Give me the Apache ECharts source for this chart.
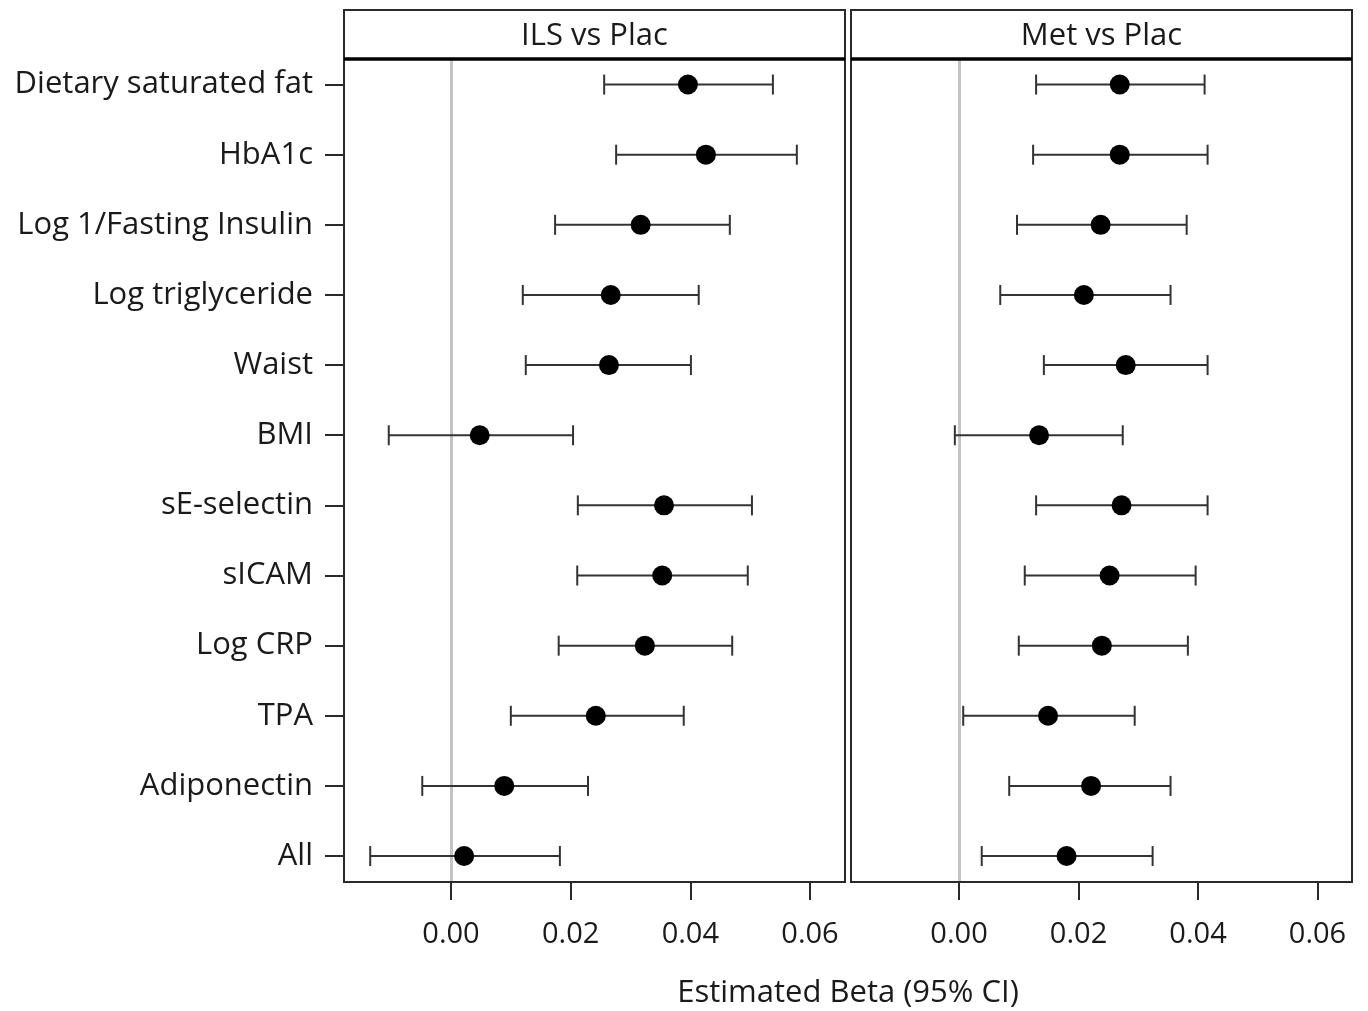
<!DOCTYPE html>
<html>
<head>
<meta charset="utf-8">
<script src="https://cdn.jsdelivr.net/npm/echarts@6/dist/echarts.min.js"></script>
<style>
  html, body { margin: 0; padding: 0; background: #fff; }
  #chart { width: 1368px; height: 1011px; }
</style>
</head>
<body>
<div id="chart"></div>
<script>
// Outcome measures, listed top to bottom
const outcomes = [
  'Dietary saturated fat', 'HbA1c', 'Log 1/Fasting Insulin', 'Log triglyceride',
  'Waist', 'BMI', 'sE-selectin', 'sICAM', 'Log CRP', 'TPA', 'Adiponectin', 'All'
];

// Panel titles
const panelTitles = ['ILS vs Plac', 'Met vs Plac'];

// ILS vs placebo: estimate, lower and upper 95% CI
const ilsBeta  = [0.0396, 0.0426, 0.0317, 0.0267, 0.0264, 0.0048, 0.0356, 0.0353, 0.0324, 0.0242, 0.0089, 0.0022];
const ilsLower = [0.0256, 0.0276, 0.0174, 0.0120, 0.0125, -0.0104, 0.0212, 0.0211, 0.0180, 0.0100, -0.0048, -0.0135];
const ilsUpper = [0.0538, 0.0578, 0.0466, 0.0414, 0.0401, 0.0204, 0.0503, 0.0496, 0.0470, 0.0389, 0.0229, 0.0182];

// Metformin vs placebo: estimate, lower and upper 95% CI
const metBeta  = [0.0269, 0.0269, 0.0237, 0.0209, 0.0279, 0.0134, 0.0272, 0.0252, 0.0239, 0.0149, 0.0221, 0.0180];
const metLower = [0.0129, 0.0124, 0.0097, 0.0069, 0.0142, -0.0007, 0.0129, 0.0110, 0.0100, 0.0007, 0.0084, 0.0038];
const metUpper = [0.0411, 0.0416, 0.0381, 0.0354, 0.0416, 0.0274, 0.0416, 0.0396, 0.0383, 0.0294, 0.0354, 0.0324];

// Tick values on the beta axis
const betaTicks = [0, 0.02, 0.04, 0.06];
const axisTitle = 'Estimated Beta (95% CI)';

const FONT = '"Open Sans"';
const FS = 31;       // category labels, strip titles, axis title
const FS_TICK = 29;  // numeric tick labels
const INK = '#1a1a1a';
const FRAME = '#2a2a2a';

const chart = echarts.init(document.getElementById('chart'), null, { renderer: 'canvas' });

const rowIdx = outcomes.map((_, i) => i);

const grids = [
  { left: 344, right: 523, top: 60, bottom: 129 },
  { left: 851, right: 16, top: 60, bottom: 129 }
];

function xAxisFor(gi, min, max) {
  return {
    type: 'value', gridIndex: gi, min: min, max: max, position: 'bottom',
    splitLine: { show: false },
    axisLine: { show: false, onZero: false },
    axisTick: { show: true, length: 18, customValues: betaTicks, lineStyle: { color: FRAME, width: 2 } },
    axisLabel: {
      customValues: betaTicks, margin: 38,
      fontFamily: FONT, fontSize: FS_TICK, color: INK,
      formatter: v => v.toFixed(2)
    }
  };
}

function yAxisFor(gi, showLabels) {
  return {
    type: 'value', gridIndex: gi, inverse: true, min: -0.35, max: 11.37, position: 'left',
    splitLine: { show: false },
    axisLine: { show: false, onZero: false },
    axisTick: { show: showLabels, length: 19, customValues: rowIdx, lineStyle: { color: FRAME, width: 2 } },
    axisLabel: {
      show: showLabels, customValues: rowIdx, margin: 31,
      fontFamily: FONT, fontSize: FS, color: INK,
      formatter: v => outcomes[Math.round(v)]
    }
  };
}

// Error bar with end caps
function errorBar(params, api) {
  const y = api.value(0);
  const lo = api.coord([api.value(1), y]);
  const hi = api.coord([api.value(2), y]);
  const cap = 10;
  const style = { stroke: '#333', lineWidth: 2 };
  return {
    type: 'group',
    children: [
      { type: 'line', shape: { x1: lo[0], y1: lo[1], x2: hi[0], y2: hi[1] }, style: style },
      { type: 'line', shape: { x1: lo[0], y1: lo[1] - cap, x2: lo[0], y2: lo[1] + cap }, style: style },
      { type: 'line', shape: { x1: hi[0], y1: hi[1] - cap, x2: hi[0], y2: hi[1] + cap }, style: style }
    ]
  };
}

function panelSeries(gi, beta, lower, upper) {
  return [
    {
      type: 'custom', xAxisIndex: gi, yAxisIndex: gi, z: 2,
      renderItem: errorBar,
      encode: { x: [1, 2], y: 0 },
      data: rowIdx.map(i => [i, lower[i], upper[i]]),
      markLine: {
        silent: true, symbol: 'none', z: 1,
        label: { show: false },
        lineStyle: { color: '#c4c4c4', width: 3, type: 'solid' },
        data: [{ xAxis: 0 }]
      }
    },
    {
      type: 'scatter', xAxisIndex: gi, yAxisIndex: gi, z: 3,
      symbol: 'circle', symbolSize: 20,
      itemStyle: { color: '#000', opacity: 1 },
      data: rowIdx.map(i => [beta[i], i])
    }
  ];
}

// Panel frames, header strips and shared axis title
const graphics = [];
const panels = [[344, 845], [851, 1352]];
panels.forEach((p, k) => {
  graphics.push({
    type: 'rect', z: 10, silent: true,
    shape: { x: p[0], y: 10, width: p[1] - p[0], height: 872 },
    style: { fill: 'none', stroke: FRAME, lineWidth: 2 }
  });
  graphics.push({
    type: 'line', z: 10, silent: true,
    shape: { x1: p[0], y1: 59, x2: p[1], y2: 59 },
    style: { stroke: '#000', lineWidth: 3.5 }
  });
  graphics.push({
    type: 'text', z: 10, silent: true,
    x: (p[0] + p[1]) / 2, y: 36,
    style: {
      text: panelTitles[k], fill: INK, font: FS + 'px ' + FONT,
      align: 'center', verticalAlign: 'middle'
    }
  });
});
graphics.push({
  type: 'text', silent: true, x: 848, y: 993,
  style: { text: axisTitle, fill: INK, font: FS + 'px ' + FONT, align: 'center', verticalAlign: 'middle' }
});

chart.setOption({
  backgroundColor: '#fff',
  animation: false,
  grid: grids,
  xAxis: [xAxisFor(0, -0.01788, 0.06585), xAxisFor(1, -0.01808, 0.06577)],
  yAxis: [yAxisFor(0, true), yAxisFor(1, false)],
  series: [].concat(
    panelSeries(0, ilsBeta, ilsLower, ilsUpper),
    panelSeries(1, metBeta, metLower, metUpper)
  ),
  graphic: graphics
});
</script>
</body>
</html>
